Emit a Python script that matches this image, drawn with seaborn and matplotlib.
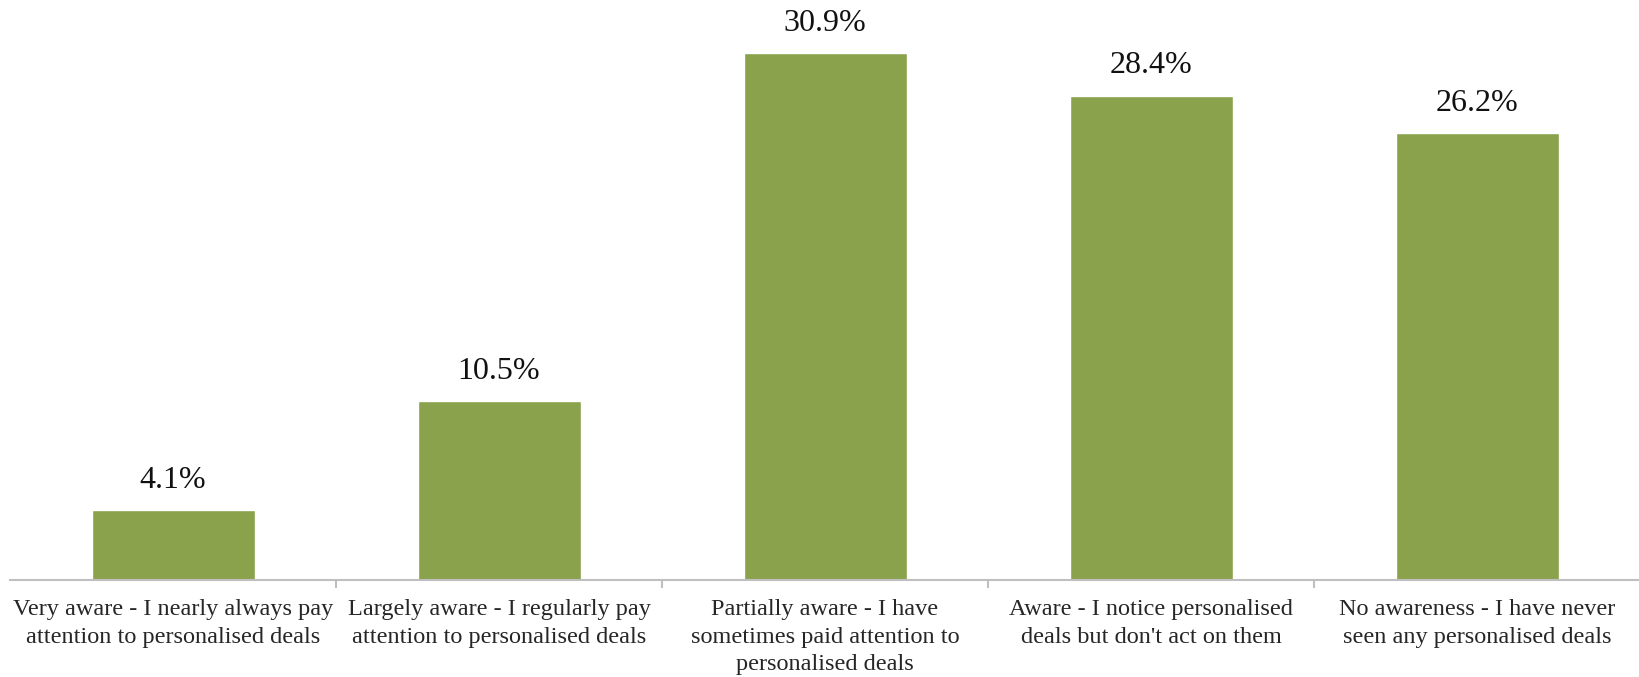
import matplotlib

matplotlib.use("Agg")
import matplotlib.pyplot as plt
import pandas as pd
import seaborn as sns

categories = [
    "Very aware - I nearly always pay\nattention to personalised deals",
    "Largely aware - I regularly pay\nattention to personalised deals",
    "Partially aware - I have\nsometimes paid attention to\npersonalised deals",
    "Aware - I notice personalised\ndeals but don't act on them",
    "No awareness - I have never\nseen any personalised deals",
]
shares = [4.1, 10.5, 30.9, 28.4, 26.2]

BAR = "#8ba24d"
AXIS = "#bfbfbf"

sns.set_theme(style="white")
plt.rcParams["font.family"] = ["Liberation Serif", "DejaVu Serif"]

df = pd.DataFrame({"category": categories, "share": shares})

fig = plt.figure(figsize=(16.4, 6.77), dpi=100)
ax = fig.add_axes([10 / 1640, 1 - 580 / 677, 1630 / 1640, 580 / 677])
sns.barplot(data=df, x="category", y="share", color=BAR, width=0.5,
            saturation=1, ax=ax)

ax.set_ylim(0, 34.0)
ax.set_xlim(-0.5, len(categories) - 0.5)
ax.set_yticks([])
ax.set_xlabel("")
ax.set_ylabel("")
for side in ("top", "right", "left"):
    ax.spines[side].set_visible(False)
ax.spines["bottom"].set_color(AXIS)
ax.spines["bottom"].set_linewidth(1.5)

# tick marks sit between categories, labels centred under bars
ax.set_xticks([i + 0.5 for i in range(len(categories) - 1)], minor=True)
ax.tick_params(axis="x", which="minor", length=6, width=1.5, color=AXIS, direction="out")
ax.tick_params(axis="x", which="major", length=0, pad=14, labelsize=17.5)
ax.set_xticklabels(categories, linespacing=1.4)
ax.tick_params(axis="x", which="both", bottom=True)

for i, v in enumerate(shares):
    ax.text(i, v + 0.9, f"{v:.1f}%", ha="center", va="bottom", fontsize=23,
            color="#111111")

fig.savefig("out.png", dpi=100)
